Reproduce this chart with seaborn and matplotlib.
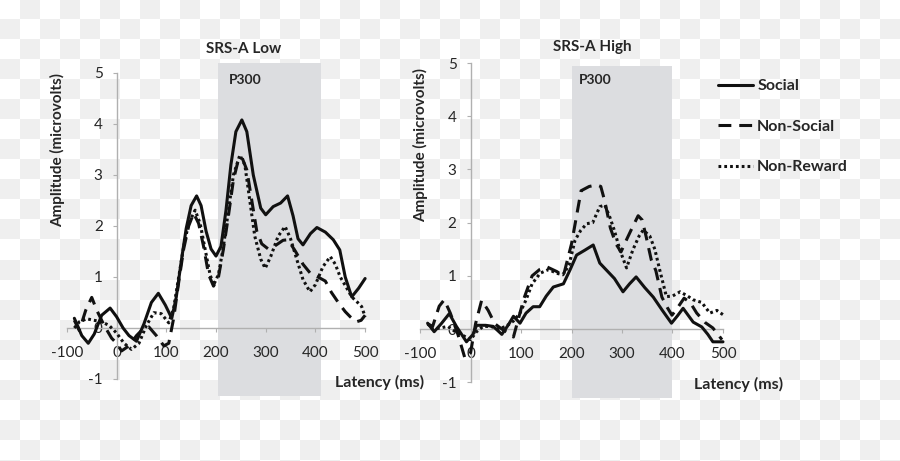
import numpy as np
import pandas as pd
import matplotlib
matplotlib.use("Agg")
import matplotlib.pyplot as plt
from matplotlib.colors import ListedColormap
import seaborn as sns

# ---- data (latency in ms, amplitude in microvolts) ----
low_social_ms = [-85, -70, -57, -45, -30, -13, 0, 13, 25, 40, 55, 70, 84, 98, 111, 120, 130, 140, 150, 161,
                 170, 180, 190, 200, 210, 220, 230, 240, 252, 262, 275, 290, 300, 315, 330, 344, 355, 365,
                 375, 390, 403, 420, 436, 449, 460, 473, 487, 500]
low_social_uv = [0.19, -0.15, -0.30, -0.12, 0.25, 0.39, 0.22, 0.0, -0.15, -0.26, 0.08, 0.50, 0.68, 0.45, 0.19,
                 0.60, 1.30, 1.95, 2.40, 2.59, 2.40, 1.90, 1.55, 1.41, 1.60, 2.30, 3.20, 3.85, 4.08, 3.85,
                 3.00, 2.35, 2.22, 2.38, 2.45, 2.59, 2.20, 1.75, 1.63, 1.85, 1.97, 1.88, 1.73, 1.53, 1.00,
                 0.61, 0.78, 0.97]

low_nonsocial_ms = [-85, -75, -62, -50, -40, -25, -10, 0, 10, 25, 40, 55, 65, 80, 95, 105, 115, 125, 135, 145,
                    155, 165, 175, 185, 195, 205, 215, 225, 235, 245, 252, 262, 272, 282, 292, 305, 320, 335,
                    345, 360, 375, 390, 405, 420, 432, 446, 460, 470, 482, 492, 500]
low_nonsocial_uv = [0.15, -0.05, 0.35, 0.60, 0.35, 0.05, -0.20, -0.30, -0.45, -0.35, -0.15, 0.0, 0.02, -0.15,
                    -0.35, -0.30, 0.20, 0.90, 1.55, 2.00, 2.25, 2.05, 1.60, 1.05, 0.82, 1.00, 1.55, 2.20, 2.90,
                    3.30, 3.35, 3.10, 2.50, 1.90, 1.65, 1.55, 1.62, 1.72, 1.73, 1.50, 1.25, 1.07, 1.00, 0.92,
                    0.70, 0.50, 0.32, 0.22, 0.12, 0.15, 0.25]

low_nonreward_ms = [-85, -75, -60, -45, -30, -15, 0, 15, 30, 45, 60, 75, 90, 105, 115, 125, 135, 145, 158, 168,
                    178, 188, 195, 205, 215, 225, 235, 248, 258, 268, 278, 290, 299, 310, 325, 339, 350, 363,
                    375, 389, 400, 415, 430, 440, 450, 462, 473, 485, 493, 500]
low_nonreward_uv = [0.0, 0.12, 0.18, 0.15, 0.12, 0.05, -0.10, -0.30, -0.42, -0.30, 0.05, 0.30, 0.28, 0.10,
                    0.40, 1.00, 1.60, 2.05, 2.31, 2.05, 1.55, 1.05, 0.84, 1.05, 1.60, 2.30, 3.00, 3.39, 3.20,
                    2.50, 1.80, 1.35, 1.17, 1.40, 1.80, 1.99, 1.75, 1.33, 0.95, 0.71, 0.85, 1.20, 1.40, 1.25,
                    1.00, 0.80, 0.61, 0.50, 0.42, 0.22]

high_social_ms = [-85, -72, -58, -42, -28, -8, 5, 12, 30, 45, 62, 75, 85, 98, 110, 124, 137, 150, 164, 184,
                  197, 210, 226, 243, 256, 270, 285, 302, 315, 328, 345, 362, 380, 398, 410, 421, 441, 458,
                  470, 480, 500]
high_social_uv = [0.11, -0.05, 0.10, 0.29, 0.05, -0.24, -0.10, 0.07, 0.07, 0.05, -0.10, 0.08, 0.24, 0.11, 0.30,
                  0.42, 0.42, 0.62, 0.79, 0.85, 1.11, 1.39, 1.48, 1.58, 1.24, 1.10, 0.95, 0.70, 0.85, 0.98,
                  0.78, 0.60, 0.35, 0.11, 0.25, 0.39, 0.13, 0.04, -0.10, -0.24, -0.24]

high_nonsocial_ms = [-85, -75, -62, -52, -40, -25, -11, 0, 10, 22, 35, 48, 62, 75, 85, 95, 106, 122, 137, 151,
                     171, 184, 200, 219, 235, 250, 258, 266, 277, 288, 298, 310, 320, 332, 340, 348, 358, 367,
                     379, 390, 399, 410, 423, 435, 448, 465, 480, 490, 498]
high_nonsocial_uv = [0.10, 0.05, 0.43, 0.55, 0.30, -0.10, -0.55, -0.45, 0.10, 0.54, 0.35, 0.10, 0.0, -0.08,
                     -0.15, 0.20, 0.58, 1.00, 1.12, 1.17, 1.08, 1.00, 1.60, 2.60, 2.68, 2.71, 2.68, 2.40, 1.90,
                     1.60, 1.45, 1.70, 1.90, 2.13, 2.05, 1.73, 1.30, 1.10, 0.60, 0.40, 0.26, 0.40, 0.58, 0.50,
                     0.30, 0.12, 0.02, -0.10, -0.20]

high_nonreward_ms = [-85, -75, -60, -45, -30, -15, 0, 12, 25, 40, 55, 70, 85, 98, 110, 122, 138, 155, 170, 183,
                     195, 207, 218, 230, 242, 256, 266, 276, 285, 296, 309, 322, 334, 342, 355, 365, 375, 388,
                     400, 415, 430, 441, 458, 474, 488, 500]
high_nonreward_uv = [0.10, 0.0, 0.02, 0.05, -0.05, -0.12, -0.20, -0.05, 0.05, 0.05, 0.0, 0.05, 0.15, 0.30,
                     0.55, 0.85, 1.05, 1.12, 1.05, 1.02, 1.20, 1.67, 1.85, 1.98, 2.00, 2.30, 2.33, 2.10, 1.85,
                     1.48, 1.15, 1.50, 1.75, 1.86, 1.75, 1.50, 1.10, 0.61, 0.62, 0.70, 0.62, 0.55, 0.50, 0.30,
                     0.35, 0.27]

conditions = ["Social", "Non-Social", "Non-Reward"]
panel_titles = ["SRS-A Low", "SRS-A High"]
p300_windows = [[205, 412], [200, 400]]
x_ticks = [-100, 0, 100, 200, 300, 400, 500]
y_ticks = [-1, 0, 1, 2, 3, 4, 5]

panels = [
    [(low_social_ms, low_social_uv), (low_nonsocial_ms, low_nonsocial_uv), (low_nonreward_ms, low_nonreward_uv)],
    [(high_social_ms, high_social_uv), (high_nonsocial_ms, high_nonsocial_uv),
     (high_nonreward_ms, high_nonreward_uv)],
]

styles = {
    "Social": "-",
    "Non-Social": (0, (4.2, 2.6)),
    "Non-Reward": (0, (0.9, 1.0)),
}

sns.set_style("white")
plt.rcParams["font.family"] = ["Lato", "DejaVu Sans"]

W, H = 900, 461
fig = plt.figure(figsize=(9, 4.61), dpi=100)


def fx(px):
    return px / W


def fy(py):
    return 1 - py / H


# checkered backdrop of the source image
bg = fig.add_axes([0, 0, 1, 1], zorder=-10)
board = np.indices((24, 45)).sum(axis=0) % 2
bg.imshow(board, cmap=ListedColormap(["white", "#efefef"]), interpolation="nearest",
          extent=(0, 45 * 20, 24 * 20, 0))
bg.set_xlim(0, W)
bg.set_ylim(H, 0)
bg.axis("off")

# axes boxes in pixels: left, right, top, bottom
boxes = [(64.4, 367.6, 62.8, 395.8), (417.5, 725.5, 62.0, 398.2)]
ylims = [(-1.33, 5.2), (-1.3, 5.02)]
shade_top = [5.2, 4.94]

axes = []
for i, (l, r, t, b) in enumerate(boxes):
    ax = fig.add_axes([fx(l), fy(b), (r - l) / W, (b - t) / H])
    ax.set_facecolor("none")
    ax.set_xlim(-105, 505)
    ax.set_ylim(*ylims[i])
    w0, w1 = p300_windows[i]
    ax.fill_between([w0, w1], ylims[i][0], shade_top[i], color="#dcdde0", lw=0, zorder=0)
    for cond, (xs, ys) in zip(conditions, panels[i]):
        df = pd.DataFrame({"Latency": xs, "Amplitude": ys})
        sns.lineplot(data=df, x="Latency", y="Amplitude", ax=ax, color="#111111", linewidth=2.2,
                     linestyle=styles[cond], label=cond, legend=False, zorder=3)
    ax.spines["top"].set_visible(False)
    ax.spines["right"].set_visible(False)
    ax.spines["bottom"].set_position(("data", 0))
    ax.spines["bottom"].set_bounds(-100, 500)
    ax.spines["left"].set_position(("data", 0))
    ax.spines["left"].set_bounds(-1, 5)
    for s in ("bottom", "left"):
        ax.spines[s].set_color("#b0b0b0")
        ax.spines[s].set_linewidth(1.0)
        ax.spines[s].set_zorder(2)
    ax.set_xticks(x_ticks)
    ax.set_yticks(y_ticks)
    ax.set_xticklabels([str(v) for v in x_ticks])
    ax.set_yticklabels([str(v) for v in y_ticks])
    ax.tick_params(axis="x", direction="out", length=3, width=0.8, color="#b0b0b0", pad=10,
                   labelsize=11, labelcolor="#262626", bottom=True)
    ax.tick_params(axis="y", direction="out", length=3, width=0.8, color="#b0b0b0", pad=7,
                   labelsize=11, labelcolor="#262626", left=True)
    ax.set_xlabel("")
    ax.set_ylabel("")
    axes.append(ax)

# texts placed where the source draws them
title_pos = [(244, 49), (592, 47)]
p300_pos = [(245, 80), (595, 80)]
latency_pos = [(380, 382), (739, 384)]
ylabel_pos = [(58, 150), (421, 145)]
for i in range(2):
    fig.text(fx(title_pos[i][0]), fy(title_pos[i][1]), panel_titles[i], ha="center", va="center",
             fontsize=11, fontweight="bold", color="#262626")
    fig.text(fx(p300_pos[i][0]), fy(p300_pos[i][1]), "P300", ha="center", va="center",
             fontsize=10, fontweight="bold", color="#262626")
    fig.text(fx(latency_pos[i][0]), fy(latency_pos[i][1]), "Latency (ms)", ha="center", va="center",
             fontsize=11.5, fontweight="bold", color="#262626")
    fig.text(fx(ylabel_pos[i][0]), fy(ylabel_pos[i][1]), "Amplitude (microvolts)", ha="center",
             va="center", rotation=90, fontsize=11, fontweight="bold", color="#262626")

handles, labels = axes[1].get_legend_handles_labels()
leg = fig.legend(handles, labels, loc="upper left", bbox_to_anchor=(fx(718), fy(79)),
                 bbox_transform=fig.transFigure, frameon=False, borderpad=0, borderaxespad=0,
                 handlelength=2.2, handletextpad=0.25, labelspacing=1.65,
                 prop={"weight": "bold", "size": 11.5})
for t in leg.get_texts():
    t.set_color("#262626")

fig.savefig("out.png", dpi=100)
